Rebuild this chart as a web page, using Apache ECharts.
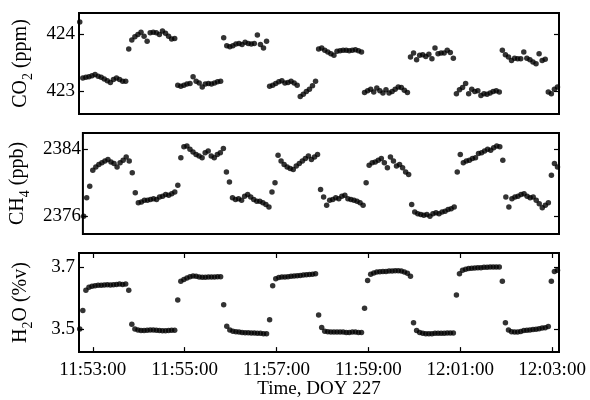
<!DOCTYPE html>
<html>
<head>
<meta charset="utf-8">
<script src="https://cdn.jsdelivr.net/npm/echarts@6/dist/echarts.min.js"></script>
<style>
  html, body { margin: 0; background: #fff; }
  #chart { width: 590px; height: 400px; }
</style>
</head>
<body>
<div id="chart"></div>
<script>
// sampling: first sample time and step (s)
var startTime = '11:52:43';
var stepSeconds = 4;

var timeTicks = ['11:53:00', '11:55:00', '11:57:00', '11:59:00', '12:01:00', '12:03:00'];
var co2Ticks = [423, 424];
var ch4Ticks = [2376, 2384];
var h2oTicks = [3.5, 3.7];

var co2 = [
  424.22,
  423.23, 423.24, 423.25, 423.27, 423.29, 423.26, 423.24, 423.21, 423.18, 423.15, 423.20, 423.23, 423.20, 423.17, 423.17,
  423.74, 423.90, 423.96, 424.00, 424.04, 423.97, 423.88, 424.03, 424.04, 424.03, 424.00, 424.06, 424.02, 423.97, 423.92, 423.93,
  423.10, 423.08, 423.10, 423.12, 423.13, 423.25, 423.17, 423.14, 423.07, 423.12, 423.13, 423.12, 423.14, 423.16, 423.17,
  423.94, 423.80, 423.78, 423.80, 423.83, 423.84, 423.82, 423.86, 423.84, 423.83, 423.84, 423.99, 423.82, 423.76, 423.88,
  423.08, 423.10, 423.13, 423.16, 423.18, 423.14, 423.15, 423.17, 423.14, 423.10, 422.90, 422.94, 422.99, 423.03, 423.09, 423.17,
  423.74, 423.76, 423.72, 423.69, 423.66, 423.63, 423.70, 423.71, 423.72, 423.72, 423.71, 423.72, 423.73, 423.71, 423.69,
  422.97, 423.00, 423.03, 422.98, 423.05, 423.00, 422.96, 423.02, 422.96, 422.99, 423.03, 423.07, 423.06, 423.01, 422.97,
  423.60, 423.67, 423.55, 423.63, 423.64, 423.61, 423.65, 423.57, 423.76, 423.66, 423.67, 423.67, 423.72, 423.68, 423.58,
  422.95, 423.02, 423.06, 423.13, 422.95, 423.03, 422.99, 423.00, 422.92, 422.95, 422.94, 422.96, 422.99, 423.00, 422.98,
  423.72, 423.64, 423.60, 423.54, 423.58, 423.57, 423.57, 423.69, 423.58, 423.55, 423.51, 423.48, 423.66, 423.54, 423.56,
  422.98, 422.95, 423.03, 423.07
];

var ch4 = [
  2376.0, 2378.2, 2379.6,
  2381.5, 2381.9, 2382.2, 2382.4, 2382.6, 2382.8, 2382.5, 2382.3, 2381.9, 2382.4, 2382.7, 2383.1, 2382.6,
  2381.2,
  2378.8, 2377.6, 2377.7, 2377.9, 2377.9, 2378.0, 2378.1, 2378.0, 2378.3, 2378.4, 2378.6, 2378.5, 2378.7, 2378.9, 2379.7,
  2383.0, 2384.3, 2384.4, 2384.0, 2383.7, 2383.4, 2383.2, 2383.0, 2383.6, 2383.8, 2383.2, 2383.0, 2383.4, 2383.6, 2384.1,
  2381.3, 2380.1,
  2378.2, 2378.0, 2378.1, 2377.9, 2378.4, 2378.6, 2378.3, 2378.0, 2377.8, 2377.8, 2377.6, 2377.4, 2377.1,
  2378.9, 2380.0,
  2383.3, 2382.6, 2382.2, 2381.9, 2381.7, 2381.6, 2382.0, 2382.3, 2382.6, 2382.9, 2383.2, 2382.8, 2383.1, 2383.4,
  2379.2, 2378.3,
  2377.3, 2377.9, 2378.0, 2378.2, 2378.1, 2378.4, 2378.5, 2378.1, 2378.0, 2377.9, 2377.8, 2377.6, 2377.3,
  2380.0, 2382.1,
  2382.4, 2382.5, 2382.7, 2382.9, 2382.4, 2381.8, 2383.1, 2382.6, 2382.0, 2382.2, 2381.8, 2381.3, 2381.0,
  2377.4,
  2376.5, 2376.3, 2376.2, 2376.1, 2376.2, 2376.0, 2376.3, 2376.4, 2376.3, 2376.5, 2376.6, 2376.8, 2376.9, 2377.1,
  2381.3, 2383.4,
  2382.4, 2382.6, 2382.7, 2382.9, 2383.0, 2383.5, 2383.6, 2383.8, 2384.0, 2383.9, 2384.2, 2384.4, 2384.3,
  2382.7, 2378.3, 2377.1,
  2378.1, 2378.3, 2378.4, 2378.6, 2378.7, 2378.4, 2378.2, 2378.3, 2377.9, 2377.5, 2377.0, 2377.3,
  2377.6,
  2380.9, 2382.3, 2381.9
];

var h2o = [
  3.500, 3.560, 3.625,
  3.635, 3.638, 3.640, 3.641, 3.641, 3.642, 3.643, 3.642, 3.643, 3.644, 3.645, 3.644, 3.645,
  3.625, 3.515,
  3.500, 3.497, 3.495, 3.495, 3.496, 3.497, 3.497, 3.496, 3.495, 3.494, 3.494, 3.495, 3.496, 3.496,
  3.594, 3.654,
  3.660, 3.665, 3.669, 3.671, 3.670, 3.668, 3.667, 3.667, 3.668, 3.668, 3.668, 3.669, 3.669,
  3.578, 3.509,
  3.497, 3.493, 3.491, 3.490, 3.489, 3.488, 3.488, 3.487, 3.487, 3.486, 3.486, 3.485, 3.485,
  3.530, 3.640,
  3.662, 3.666, 3.668, 3.668, 3.669, 3.670, 3.671, 3.672, 3.673, 3.674, 3.675, 3.676, 3.677, 3.678,
  3.545, 3.505,
  3.493, 3.491, 3.490, 3.490, 3.490, 3.490, 3.490, 3.489, 3.489, 3.490, 3.490, 3.489, 3.489,
  3.567, 3.657,
  3.677, 3.681, 3.684, 3.685, 3.686, 3.686, 3.687, 3.687, 3.688, 3.688, 3.687, 3.684, 3.680,
  3.670, 3.520, 3.495,
  3.489, 3.486, 3.485, 3.485, 3.485, 3.486, 3.486, 3.486, 3.486, 3.487, 3.487, 3.487,
  3.610, 3.678,
  3.690, 3.693, 3.695, 3.696, 3.697, 3.698, 3.698, 3.699, 3.699, 3.700, 3.700, 3.700, 3.700,
  3.654, 3.520, 3.497,
  3.491, 3.490, 3.490, 3.492, 3.495, 3.496, 3.497, 3.498, 3.499, 3.501, 3.503, 3.504, 3.508,
  3.654, 3.686, 3.690
];

(function (echarts) {
  'use strict';

  var FONT = 'Liberation Serif';

  function toSeconds(hms) {
    var p = hms.split(':');
    return (+p[0]) * 3600 + (+p[1]) * 60 + (+p[2]);
  }

  function pad(n) {
    return (n < 10 ? '0' : '') + n;
  }

  function toClock(s) {
    s = Math.round(s);
    return pad(Math.floor(s / 3600)) + ':' + pad(Math.floor(s / 60) % 60) + ':' + pad(s % 60);
  }

  var t0 = toSeconds(startTime);
  function pairs(values) {
    return values.map(function (v, i) { return [t0 + i * stepSeconds, v]; });
  }

  var xTickValues = timeTicks.map(toSeconds);
  var X_MIN = 42762, X_MAX = 43389;

  var grids = [
    { left: 79, right: 31, top: 13, height: 101 },
    { left: 79, right: 31, top: 133, height: 101 },
    { left: 79, right: 31, top: 253, height: 100 }
  ].map(function (g) {
    g.show = true;
    g.borderColor = '#000';
    g.borderWidth = 2;
    g.backgroundColor = '#fff';
    return g;
  });

  var tickStyle = { color: '#000', width: 1.2 };
  var labelStyle = { color: '#000', fontFamily: FONT, fontSize: 19 };

  function xAxis(gridIndex, opts) {
    var showTicks = !!opts.ticks;
    return {
      type: 'value', gridIndex: gridIndex, position: opts.position || 'bottom',
      min: X_MIN, max: X_MAX,
      axisLine: { show: false },
      splitLine: { show: false },
      axisTick: { show: showTicks, inside: true, length: 5, lineStyle: tickStyle, customValues: xTickValues },
      axisLabel: {
        show: !!opts.labels, margin: 8, customValues: xTickValues,
        formatter: toClock, color: '#000', fontFamily: FONT, fontSize: 19
      },
      name: opts.name || '',
      nameLocation: 'middle',
      nameGap: 27,
      nameTextStyle: labelStyle
    };
  }

  function yAxis(gridIndex, min, max, ticks, opts) {
    return {
      type: 'value', gridIndex: gridIndex, position: opts.position || 'left',
      min: min, max: max,
      axisLine: { show: false },
      splitLine: { show: false },
      axisTick: { show: true, inside: true, length: 5, lineStyle: tickStyle, customValues: ticks },
      axisLabel: {
        show: !!opts.labels, margin: opts.margin || 4, customValues: ticks,
        formatter: function (v) { return String(v); },
        color: '#000', fontFamily: FONT, fontSize: 19
      },
      name: opts.name || '',
      nameLocation: 'middle',
      nameRotate: 90,
      nameGap: opts.nameGap || 44,
      nameTextStyle: {
        color: '#000',
        rich: {
          m: { fontFamily: FONT, fontSize: 20, lineHeight: 28, color: '#000' },
          s: { fontFamily: FONT, fontSize: 14, lineHeight: 28, verticalAlign: 'bottom', color: '#000' }
        }
      }
    };
  }

  function scatter(xi, yi, values) {
    return {
      type: 'scatter', xAxisIndex: xi, yAxisIndex: yi,
      symbol: 'circle', symbolSize: 5.5,
      itemStyle: { color: '#000' },
      silent: true,
      data: pairs(values)
    };
  }

  var option = {
    animation: false,
    backgroundColor: '#fff',
    grid: grids,
    xAxis: [
      xAxis(0, {}),
      xAxis(1, {}),
      xAxis(2, { ticks: true, labels: true, name: 'Time, DOY 227' }),
      xAxis(2, { ticks: true, position: 'top' })
    ],
    yAxis: [
      yAxis(0, 422.59, 424.38, co2Ticks, { labels: true, name: '{m|CO}{s|2}{m| (ppm)}' }),
      yAxis(1, 2373.87, 2385.96, ch4Ticks, { labels: true, margin: 2, name: '{m|CH}{s|4}{m| (ppb)}' }),
      yAxis(2, 3.4254, 3.7454, h2oTicks, { labels: true, name: '{m|H}{s|2}{m|O (%v)}' }),
      yAxis(0, 422.59, 424.38, co2Ticks, { position: 'right' }),
      yAxis(1, 2373.87, 2385.96, ch4Ticks, { position: 'right' }),
      yAxis(2, 3.4254, 3.7454, h2oTicks, { position: 'right' })
    ],
    series: [
      scatter(0, 0, co2),
      scatter(1, 1, ch4),
      scatter(2, 2, h2o)
    ]
  };

  var chart = echarts.init(document.getElementById('chart'), null, { renderer: 'canvas' });
  chart.setOption(option);
})(echarts);
</script>
</body>
</html>
